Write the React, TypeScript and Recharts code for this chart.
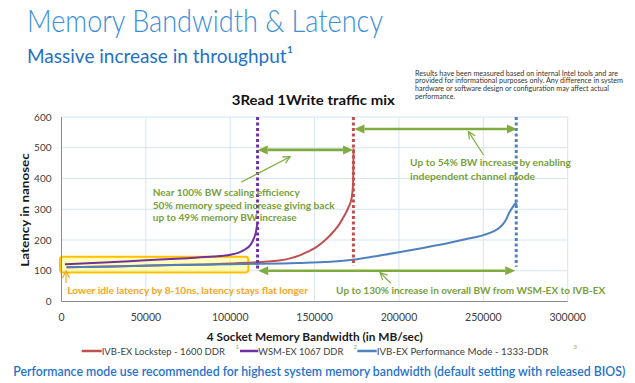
import React from 'react';
import {
  LineChart,
  Line,
  XAxis,
  YAxis,
  CartesianGrid,
  ReferenceLine,
  ReferenceArea,
  ReferenceDot,
} from 'recharts';

// ---------- data ----------
const bwTicks = [0, 50000, 100000, 150000, 200000, 250000, 300000];
const latTicks = [0, 100, 200, 300, 400, 500, 600];

const seriesNames = [
  'IVB-EX Lockstep - 1600 DDR',
  'WSM-EX 1067 DDR',
  'IVB-EX Performance Mode - 1333-DDR',
];
const seriesNotes = ['1', '2', '3'];

const lockstepBw = [3000, 30000, 60000, 90000, 110000, 122000, 130000, 136000, 141500, 146000, 151000, 156000, 161000, 164500, 167500, 170000, 172000, 172800, 173100];
const lockstepLat = [111, 114, 118, 121.5, 126, 130, 134, 141, 151, 162, 177, 198, 226, 250, 278, 305, 338, 380, 498];

const wsmBw = [2000, 25000, 50000, 75000, 90000, 100000, 105000, 109000, 112000, 114000, 115300, 116000];
const wsmLat = [121, 127, 134, 141, 146, 152, 159, 170, 184, 205, 228, 252];

const perfBw = [3000, 30000, 60000, 90000, 110000, 140000, 170000, 185000, 200000, 215000, 230000, 240000, 250000, 256000, 260000, 263000, 265500, 268000, 269200, 269800];
const perfLat = [111, 114, 117.5, 120.5, 122, 125, 134, 146, 160, 175, 191, 203, 216, 228, 242, 262, 290, 312, 320, 313];

// max-bandwidth markers (bw, bottom latency of the dotted line)
const maxWsm = [116200, 100];
const maxLockstep = [173000, 116];
const maxPerf = [269500, 113];

const disclaimer = [
  'Results have been measured based on internal Intel tools and are',
  'provided for informational purposes only. Any difference in system',
  'hardware or software design or configuration may affect actual',
  'performance.',
];

const toPoints = (bw: number[], lat: number[]) => bw.map((b, i) => ({ bw: b, lat: lat[i] }));
const lockstepData = toPoints(lockstepBw, lockstepLat);
const wsmData = toPoints(wsmBw, wsmLat);
const perfData = toPoints(perfBw, perfLat);

// ---------- styles ----------
const RED = '#c0504d';
const PURPLE = '#7030a0';
const BLUE = '#4f81bd';
const GREEN = '#7fab3f';
const GREEN_TEXT = '#77a03a';
const ORANGE = '#f5a623';
const GRID = '#d5e5f3';
const AXIS = '#8c8c8c';
const FONT = 'Lato, "Open Sans", sans-serif';

const head = (x1: number, y1: number, x2: number, y2: number, len: number, w: number) => {
  const dx = x2 - x1;
  const dy = y2 - y1;
  const L = Math.hypot(dx, dy) || 1;
  const ux = dx / L;
  const uy = dy / L;
  const bx = x2 - ux * len;
  const by = y2 - uy * len;
  return {
    pts: `${x2},${y2} ${bx - (uy * w) / 2},${by + (ux * w) / 2} ${bx + (uy * w) / 2},${by - (ux * w) / 2}`,
    bx,
    by,
    lx: bx - (uy * w) / 2,
    ly: by + (ux * w) / 2,
    rx: bx + (uy * w) / 2,
    ry: by - (ux * w) / 2,
  };
};

const doubleArrow = (props: any) => {
  const { x1, y1, x2, y2 } = props;
  const a = head(x1, y1, x2, y2, 10, 9);
  const b = head(x2, y2, x1, y1, 10, 9);
  return (
    <g>
      <line x1={b.bx} y1={b.by} x2={a.bx} y2={a.by} stroke={GREEN} strokeWidth={2.6} />
      <polygon points={a.pts} fill={GREEN} />
      <polygon points={b.pts} fill={GREEN} />
    </g>
  );
};

const pointer = (color: string) => (props: any) => {
  const { x1, y1, x2, y2 } = props;
  const a = head(x1, y1, x2, y2, 7, 7);
  return (
    <g>
      <line x1={x1} y1={y1} x2={x2} y2={y2} stroke={color} strokeWidth={1.2} />
      <polyline points={`${a.lx},${a.ly} ${x2},${y2} ${a.rx},${a.ry}`} fill="none" stroke={color} strokeWidth={1.2} />
    </g>
  );
};

const note = (text: string, len: number, color: string, size = 10) => (props: any) => (
  <text
    x={props.cx}
    y={props.cy}
    fill={color}
    fontFamily={FONT}
    fontWeight={700}
    fontSize={size}
    textLength={len}
    lengthAdjust="spacingAndGlyphs"
  >
    {text}
  </text>
);

const highlight = (props: any) => (
  <rect
    x={props.x}
    y={props.y}
    width={props.width}
    height={props.height}
    rx={3}
    fill="#ffff66"
    fillOpacity={0.45}
    stroke="#ffc000"
    strokeWidth={2}
  />
);

const T = (p: any) => (
  <text fontFamily={FONT} lengthAdjust="spacingAndGlyphs" {...p} />
);

export default function App() {
  return (
    <div style={{ position: 'absolute', left: 0, top: 0, width: 635, height: 383, background: '#fff', overflow: 'hidden' }}>
      <LineChart
        width={635}
        height={383}
        margin={{ top: 117, right: 67.3, bottom: 51.5, left: 0 }}
        style={{ position: 'absolute', left: 0, top: 0 }}
      >
        <CartesianGrid stroke={GRID} strokeWidth={1} horizontalValues={latTicks} verticalValues={bwTicks} />
        <XAxis
          type="number"
          dataKey="bw"
          domain={[0, 300000]}
          ticks={bwTicks}
          height={30}
          tickSize={0}
          tickMargin={12}
          axisLine={{ stroke: AXIS }}
          tick={{ fill: '#404040', fontSize: 10.5, fontFamily: FONT }}
          allowDataOverflow
        />
        <YAxis
          type="number"
          dataKey="lat"
          domain={[0, 600]}
          ticks={latTicks}
          width={61.5}
          tickSize={0}
          tickMargin={10}
          axisLine={{ stroke: AXIS }}
          tick={{ fill: '#404040', fontSize: 10, fontFamily: FONT }}
          allowDataOverflow
        />
        <ReferenceArea x1={-900} x2={110750} y1={94.7} y2={145.7} ifOverflow="visible" shape={highlight} />
        <Line data={lockstepData} dataKey="lat" type="monotone" stroke={RED} strokeWidth={2} dot={false} isAnimationActive={false} name={seriesNames[0]} />
        <Line data={wsmData} dataKey="lat" type="monotone" stroke={PURPLE} strokeWidth={2} dot={false} isAnimationActive={false} name={seriesNames[1]} />
        <Line data={perfData} dataKey="lat" type="monotone" stroke={BLUE} strokeWidth={2} dot={false} isAnimationActive={false} name={seriesNames[2]} />

        <ReferenceLine segment={[{ x: maxWsm[0], y: 600 }, { x: maxWsm[0], y: maxWsm[1] }]} stroke={PURPLE} strokeWidth={3} strokeDasharray="3 2.5" ifOverflow="visible" />
        <ReferenceLine segment={[{ x: maxLockstep[0], y: 600 }, { x: maxLockstep[0], y: maxLockstep[1] }]} stroke={RED} strokeWidth={3} strokeDasharray="3 2.5" ifOverflow="visible" />
        <ReferenceLine segment={[{ x: maxPerf[0], y: 600 }, { x: maxPerf[0], y: maxPerf[1] }]} stroke={BLUE} strokeWidth={3} strokeDasharray="3 2.5" ifOverflow="visible" />

        <ReferenceLine segment={[{ x: 116300, y: 493 }, { x: 172800, y: 493 }]} shape={doubleArrow} ifOverflow="visible" />
        <ReferenceLine segment={[{ x: 173600, y: 561 }, { x: 269900, y: 561 }]} shape={doubleArrow} ifOverflow="visible" />
        <ReferenceLine segment={[{ x: 116600, y: 100 }, { x: 268900, y: 100 }]} shape={doubleArrow} ifOverflow="visible" />

        <ReferenceLine segment={[{ x: 106400, y: 387.6 }, { x: 135500, y: 470.9 }]} shape={pointer(GREEN)} ifOverflow="visible" />
        <ReferenceLine segment={[{ x: 250100, y: 476.4 }, { x: 241200, y: 552.2 }]} shape={pointer(GREEN)} ifOverflow="visible" />
        <ReferenceLine segment={[{ x: 195200, y: 59.2 }, { x: 188800, y: 93.7 }]} shape={pointer(GREEN)} ifOverflow="visible" />
        <ReferenceLine segment={[{ x: 2670, y: 60 }, { x: 2670, y: 99 }]} shape={pointer(ORANGE)} ifOverflow="visible" />

        <ReferenceDot x={54070} y={342.4} r={0} ifOverflow="visible" shape={note('Near 100% BW scaling efficiency', 147, GREEN_TEXT)} />
        <ReferenceDot x={54070} y={300.2} r={0} ifOverflow="visible" shape={note('50% memory speed increase giving back', 182, GREEN_TEXT)} />
        <ReferenceDot x={54070} y={260.2} r={0} ifOverflow="visible" shape={note('up to 49% memory BW increase', 144, GREEN_TEXT)} />
        <ReferenceDot x={206600} y={440} r={0} ifOverflow="visible" shape={note('Up to 54% BW increase by enabling', 160.7, GREEN_TEXT)} />
        <ReferenceDot x={206600} y={396.7} r={0} ifOverflow="visible" shape={note('independent channel mode', 125, GREEN_TEXT)} />
        <ReferenceDot x={162750} y={23.7} r={0} ifOverflow="visible" shape={note('Up to 130% increase in overall BW from WSM-EX to  IVB-EX', 269, GREEN_TEXT)} />
        <ReferenceDot x={3440} y={22.8} r={0} ifOverflow="visible" shape={note('Lower idle latency by 8-10ns, latency stays flat longer', 240.7, ORANGE)} />
      </LineChart>

      <svg width={635} height={383} style={{ position: 'absolute', left: 0, top: 0, pointerEvents: 'none' }}>
        <T x={27} y={31.6} fontSize={32} fontWeight={300} fill="#3a8fd9" textLength={356}>Memory Bandwidth &amp; Latency</T>
        <T x={27} y={63.3} fontSize={20} fill="#1f70c6" textLength={266}>Massive increase in throughput¹</T>
        {disclaimer.map((line, i) => (
          <T key={i} x={415} y={75.5 + i * 7.8} fontSize={6.6} fill="#333" textLength={[203, 208, 194, 40][i]}>{line}</T>
        ))}
        <T x={313.3} y={104.5} fontSize={13.5} fontWeight={700} fill="#111" textAnchor="middle" textLength={163}>3Read 1Write traffic mix</T>
        <T x={314.7} y={340.7} fontSize={11.5} fontWeight={700} fill="#1a1a1a" textAnchor="middle" textLength={216}>4 Socket Memory Bandwidth (in MB/sec)</T>
        <T x={29} y={210} fontSize={12} fontWeight={700} fill="#1a1a1a" textAnchor="middle" textLength={113.4} transform="rotate(-90 29 210)">Latency in nanosec</T>

        {/* legend */}
        <line x1={81.7} y1={351} x2={101.7} y2={351} stroke={RED} strokeWidth={2.5} />
        <T x={101.7} y={354.5} fontSize={10} fill="#404040" textLength={123.3}>{seriesNames[0]}</T>
        <T x={235.5} y={348.5} fontSize={6} fill="#8fb04a">{seriesNotes[0]}</T>
        <line x1={240} y1={351} x2={258.3} y2={351} stroke={PURPLE} strokeWidth={2.5} />
        <T x={258.3} y={354.5} fontSize={10} fill="#404040" textLength={85}>{seriesNames[1]}</T>
        <T x={353.5} y={348.5} fontSize={6} fill="#8fb04a">{seriesNotes[1]}</T>
        <line x1={357.3} y1={351} x2={376.7} y2={351} stroke={BLUE} strokeWidth={2.5} />
        <T x={376.7} y={354.5} fontSize={10} fill="#404040" textLength={171.6}>{seriesNames[2]}</T>
        <T x={573.5} y={348.5} fontSize={6} fill="#8fb04a">{seriesNotes[2]}</T>

        <T x={13.3} y={376} fontSize={12.5} fontWeight={600} fill="#1f73cc" textLength={612}>Performance mode use recommended for highest system memory bandwidth (default setting with released BIOS)</T>
      </svg>
    </div>
  );
}
